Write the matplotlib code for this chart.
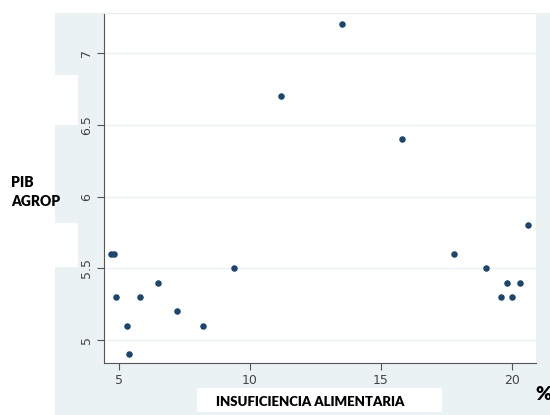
import matplotlib.pyplot as plt
from matplotlib.patches import Rectangle

# datos
insuficiencia = [4.7, 4.8, 4.9, 5.3, 5.4, 5.8, 6.5, 7.2, 8.2, 9.4,
                 11.2, 13.5, 15.8, 17.8, 19.0, 19.6, 19.8, 20.0, 20.3, 20.6]
pib_agrop = [5.6, 5.6, 5.3, 5.1, 4.9, 5.3, 5.4, 5.2, 5.1, 5.5,
             6.7, 7.2, 6.4, 5.6, 5.5, 5.3, 5.4, 5.3, 5.4, 5.8]
xticks = [5, 10, 15, 20]
yticks = [5, 5.5, 6, 6.5, 7]
yticklabels = ['5', '5.5', '6', '6.5', '7']

W, H = 550, 415
fig = plt.figure(figsize=(W / 100, H / 100), dpi=100, facecolor='white')

# fondo azul claro tipo Stata
fig.patches.append(Rectangle((55 / W, 0), 1 - 55 / W, 1 - 13 / H,
                             transform=fig.transFigure, facecolor='#eaf2f3',
                             edgecolor='none', zorder=-2))
# parches blancos de la captura
for (x0, y0, x1, y1) in [(55, 75, 78, 125), (55, 223, 78, 267), (197, 388, 442, 412)]:
    fig.patches.append(Rectangle((x0 / W, 1 - y1 / H), (x1 - x0) / W, (y1 - y0) / H,
                                 transform=fig.transFigure, facecolor='white',
                                 edgecolor='none', zorder=-1))

ax = fig.add_axes([104 / W, 1 - 363 / H, (536 - 104) / W, (363 - 13) / H])
ax.set_facecolor('white')
ax.scatter(insuficiencia, pib_agrop, s=22, color='#1a476f', zorder=3, linewidths=0)

ax.set_xlim(4.43, 20.92)
ax.set_ylim(4.84, 7.28)
ax.set_xticks(xticks)
ax.set_yticks(yticks)
ax.set_yticklabels(yticklabels, rotation=90, va='center')
ax.grid(axis='y', color='#eaf2f3', linewidth=1)
ax.grid(axis='x', visible=False)
ax.set_axisbelow(True)
ax.tick_params(length=5, width=0.8, color='#555555', labelcolor='#444444',
               labelsize=9, pad=3, direction='out')

ax.spines['right'].set_visible(False)
ax.spines['top'].set_color('#e8ecec')
ax.spines['left'].set_color('#555555')
ax.spines['bottom'].set_color('#555555')

fig.text(11 / W, 1 - 182 / H, 'PIB', fontsize=10, fontweight='heavy',
         family='Lato', va='center', ha='left')
fig.text(11 / W, 1 - 202 / H, 'AGROP', fontsize=10, fontweight='heavy',
         family='Lato', va='center', ha='left')
fig.text(310 / W, 1 - 402 / H, 'INSUFICIENCIA ALIMENTARIA', fontsize=9.5,
         fontweight='heavy', family='Lato', va='center', ha='center')
fig.text(535 / W, 1 - 394 / H, '%', fontsize=14, fontweight='heavy',
         family='Lato', va='center', ha='left')

fig.savefig('out.png', dpi=100, facecolor='white')
